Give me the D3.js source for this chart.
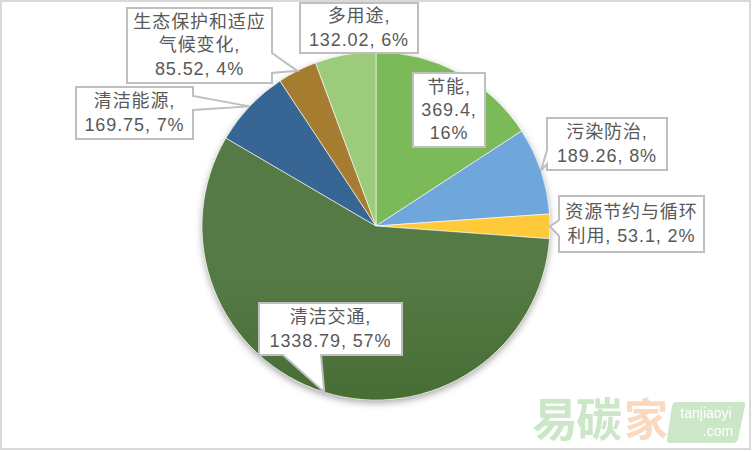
<!DOCTYPE html>
<html><head><meta charset="utf-8">
<script src="https://cdn.jsdelivr.net/npm/d3@7/dist/d3.min.js"></script>
<style>
html,body{margin:0;padding:0;background:#fff;}
svg{display:block;}
text{font-family:"Liberation Sans","Noto Sans CJK SC",sans-serif;}
</style></head>
<body>
<svg id="c" width="752" height="452"></svg>
<script>
// ---- data ----
const categories = ["节能","污染防治","资源节约与循环利用","清洁交通","清洁能源","生态保护和适应气候变化","多用途"];
const values = [369.4,189.26,53.1,1338.79,169.75,85.52,132.02];
const percents = ["16%","8%","2%","57%","7%","4%","6%"];
const labelLines = [
  ["节能,","369.4,","16%"],
  ["污染防治,","189.26, 8%"],
  ["资源节约与循环","利用, 53.1, 2%"],
  ["清洁交通,","1338.79, 57%"],
  ["清洁能源,","169.75, 7%"],
  ["生态保护和适应","气候变化,","85.52, 4%"],
  ["多用途,","132.02, 6%"]
];
// colours (top, bottom of gradient)
const colTop = ["#7cb958","#6fa7dd","#ffca3a","#557a45","#386694","#a57c30","#9ccb7c"];
const colBot = ["#62a038","#4485c7","#f2b500","#2e5517","#1a4f86","#926800","#80bc5a"];

// ---- layout ----
const W = 752, H = 452;
const cx = 376, cy = 226, R = 174;
const boxes = [
  {x:413,y:73,w:72,h:74,side:null},
  {x:547,y:118,w:120,h:52,side:"left",b0:150,b1:164,tf:1.0},
  {x:559,y:196,w:145,h:56,side:"left",b0:220,b1:236,tf:1.0},
  {x:259,y:303,w:143,h:52,side:"bottom",b0:283,b1:321,tf:1.0},
  {x:76,y:87,w:117,h:52,side:"right",b0:96,b1:110,tf:1.0},
  {x:127,y:8,w:145,h:75,side:"right",b0:53,b1:73,tf:1.0},
  {x:300,y:3,w:118,h:50,side:null}
];

const svg = d3.select("#c");
const defs = svg.append("defs");

svg.append("rect").attr("x",1).attr("y",1).attr("width",W-3).attr("height",H-4)
  .attr("fill","#fff").attr("stroke","#d9d9d9").attr("stroke-width",2);

const f = defs.append("filter").attr("id","sh").attr("x","-20%").attr("y","-20%").attr("width","140%").attr("height","140%");
f.append("feDropShadow").attr("dx",0).attr("dy",3).attr("stdDeviation",3.5)
  .attr("flood-color","#000").attr("flood-opacity",0.35);

categories.forEach((c,i)=>{
  const g = defs.append("linearGradient").attr("id","g"+i)
    .attr("gradientUnits","userSpaceOnUse")
    .attr("x1",0).attr("y1",cy-R).attr("x2",0).attr("y2",cy+R);
  g.append("stop").attr("offset","0%").attr("stop-color",colTop[i]);
  g.append("stop").attr("offset","100%").attr("stop-color",colBot[i]);
});

const pie = d3.pie().sort(null).value(d=>d)(values);
const arc = d3.arc().innerRadius(0).outerRadius(R);

const gp = svg.append("g").attr("transform",`translate(${cx},${cy})`);
gp.append("circle").attr("r",R).attr("fill","#fff").attr("filter","url(#sh)");
gp.selectAll("path.s").data(pie).join("path").attr("class","s")
  .attr("d",arc).attr("fill",(d,i)=>`url(#g${i})`)
  .attr("stroke","#fff").attr("stroke-width",0.6);

function tipOf(d, tf){
  const a = (d.startAngle+d.endAngle)/2;
  return [cx + Math.sin(a)*R*tf, cy - Math.cos(a)*R*tf];
}
function calloutPath(b, tip){
  const x0=b.x, y0=b.y, x1=b.x+b.w, y1=b.y+b.h;
  const p = d3.path();
  p.moveTo(x0,y0); p.lineTo(x1,y0);
  if(b.side==="right"){ p.lineTo(x1,b.b0); p.lineTo(tip[0],tip[1]); p.lineTo(x1,b.b1); }
  p.lineTo(x1,y1);
  if(b.side==="bottom"){ p.lineTo(b.b1,y1); p.lineTo(tip[0],tip[1]); p.lineTo(b.b0,y1); }
  p.lineTo(x0,y1);
  if(b.side==="left"){ p.lineTo(x0,b.b1); p.lineTo(tip[0],tip[1]); p.lineTo(x0,b.b0); }
  p.closePath();
  return p.toString();
}
const gl = svg.append("g");
pie.forEach((d,i)=>{
  const b = boxes[i];
  const tip = b.side ? tipOf(d,b.tf) : null;
  gl.append("path").attr("d",calloutPath(b,tip))
    .attr("fill","#fff").attr("stroke","#bfbfbf").attr("stroke-width",2).attr("stroke-linejoin","miter");
  const lines = labelLines[i];
  const lh = 23.3;
  const tot = lines.length*lh;
  const top = b.y + (b.h - tot)/2;
  lines.forEach((t,k)=>{
    gl.append("text").attr("x",b.x+b.w/2).attr("y",top + k*lh + 17.5)
      .attr("text-anchor","middle").attr("font-size",18).attr("fill","#595959")
      .attr("letter-spacing",0.9).text(t);
  });
});

// watermark
const wm = svg.append("g").attr("opacity",0.9);
wm.append("text").attr("x",532).attr("y",436).attr("font-size",46).attr("font-weight",700)
  .attr("font-family","Noto Sans CJK SC")
  .attr("fill","#c6e5c3").attr("letter-spacing",-2).text("易碳");
wm.append("text").attr("x",624).attr("y",436).attr("font-size",44).attr("font-weight",700)
  .attr("font-family","Noto Sans CJK SC")
  .attr("fill","#f9d5ba").text("家");
wm.append("path").attr("d","M676,402 L742,402 Q746,402 745,406 L738,439 Q737,443 733,443 L670,443 Q666,443 667,439 L672,406 Q673,402 676,402 Z")
  .attr("fill","#c6e5c3");
wm.append("text").attr("x",706).attr("y",418).attr("text-anchor","middle").attr("font-size",14)
  .attr("fill","#fff").attr("font-family","Roboto, sans-serif").text("tanjiaoyi");
wm.append("text").attr("x",718).attr("y",436).attr("text-anchor","middle").attr("font-size",14)
  .attr("fill","#fff").attr("font-family","Roboto, sans-serif").text(".com");
</script>
</body></html>
